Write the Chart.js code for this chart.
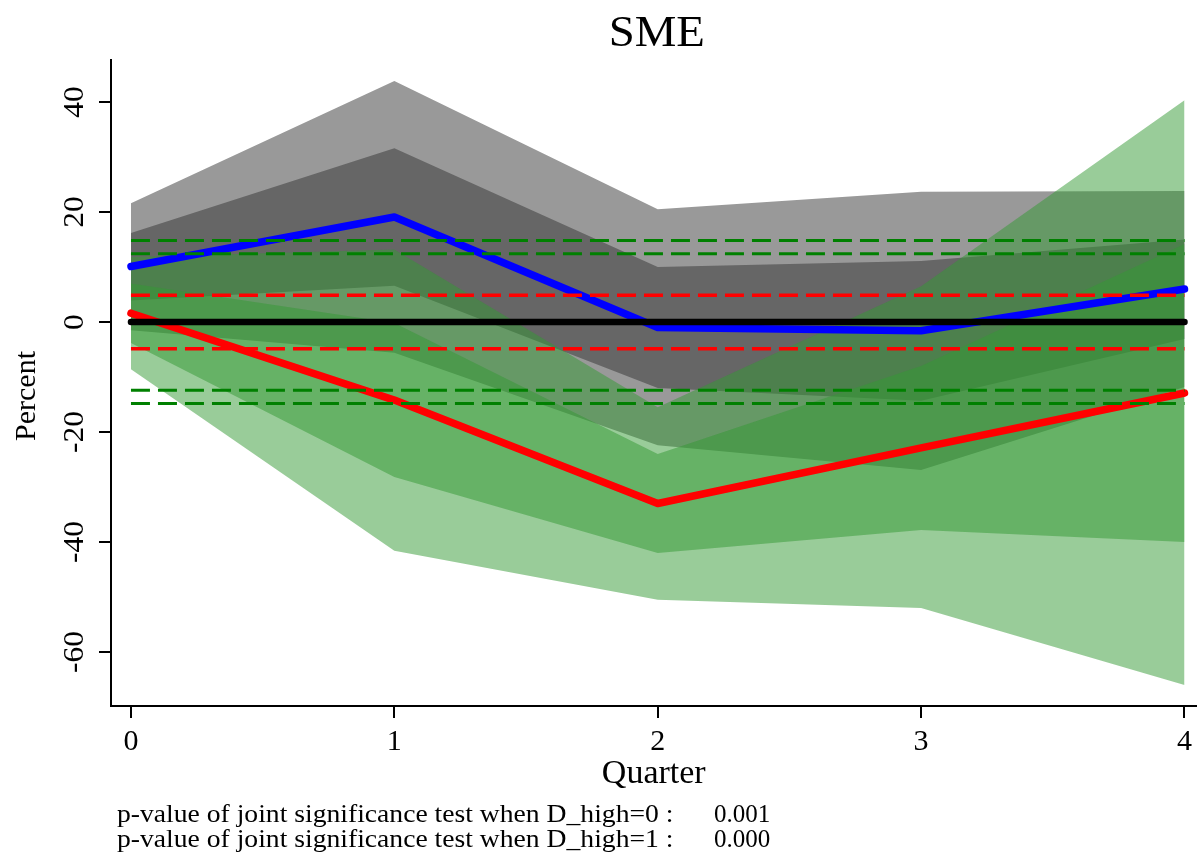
<!DOCTYPE html>
<html>
<head>
<meta charset="utf-8">
<script src="https://cdn.jsdelivr.net/npm/chart.js@4.4.1/dist/chart.umd.min.js"></script>
<style>
html,body{margin:0;padding:0;background:#ffffff;}
canvas{display:block;}
</style>
</head>
<body>
<canvas id="c" width="1198" height="857" style="width:1198px;height:857px"></canvas>
<script>
// ---- data ----
const quarters = [0, 1, 2, 3, 4];
const yTickValues = [-60, -40, -20, 0, 20, 40];

// D_high = 0 (blue) point estimate and bands
const blueEstimate   = [10.1, 19.1, -1.0, -1.6, 6.0];
const blueOuterUpper = [21.6, 43.8, 20.5, 23.7, 23.8];
const blueOuterLower = [-1.5, -5.6, -22.4, -26.9, -11.8];
const blueInnerUpper = [16.2, 31.6, 10.0, 11.1, 15.0];
const blueInnerLower = [3.9, 6.6, -12.0, -14.3, -3.1];

// D_high = 1 (red) point estimate and bands
const redEstimate   = [1.6, -14.2, -33.0, -22.9, -12.9];
const redOuterUpper = [11.8, 13.2, -15.5, 6.5, 40.3];
const redOuterLower = [-8.6, -41.6, -50.5, -52.0, -66.0];
const redInnerUpper = [7.0, -0.2, -24.0, -8.0, 14.2];
const redInnerLower = [-3.8, -28.2, -42.0, -37.8, -40.0];

// reference levels
const zeroLevel = 0;
const greenDashLevels = [14.8, 12.4, -12.4, -14.8];
const redDashLevels = [4.85, -4.85];

const titleText = 'SME';
const xTitle = 'Quarter';
const yTitle = 'Percent';
const footnoteLabels = ['p-value of joint significance test when D_high=0 :', 'p-value of joint significance test when D_high=1 :'];
const footnoteValues = ['0.001', '0.000'];

// ---- axis ranges ----
const xMin = -0.0758, xMax = 4.0455;
const yMin = -69.82, yMax = 47.64;

const FONT = 'Liberation Serif';
const GREEN_BAND = 'rgba(51,153,51,0.5)';

const pts = arr => quarters.map((q, i) => ({x: q, y: arr[i]}));
const hline = v => [{x: quarters[0], y: v}, {x: quarters[quarters.length - 1], y: v}];

function band(lower, upper, color, order) {
  return [
    {data: pts(lower), borderWidth: 0, pointRadius: 0, fill: false, order: order, borderColor: 'rgba(0,0,0,0)'},
    {data: pts(upper), borderWidth: 0, pointRadius: 0, fill: '-1', backgroundColor: color, order: order, borderColor: 'rgba(0,0,0,0)'}
  ];
}

const datasets = [];
datasets.push(...band(blueOuterLower, blueOuterUpper, '#999999', 20));
datasets.push(...band(blueInnerLower, blueInnerUpper, '#666666', 19));
datasets.push(...band(redOuterLower, redOuterUpper, GREEN_BAND, 18));
datasets.push(...band(redInnerLower, redInnerUpper, GREEN_BAND, 17));
datasets.push({data: pts(blueEstimate), borderColor: '#0000ff', borderWidth: 7.5, pointRadius: 0, fill: false, order: 6, borderCapStyle: 'round', borderJoinStyle: 'round'});
datasets.push({data: pts(redEstimate), borderColor: '#ff0000', borderWidth: 7.5, pointRadius: 0, fill: false, order: 5, borderCapStyle: 'round', borderJoinStyle: 'round'});
datasets.push({data: hline(zeroLevel), borderColor: '#000000', borderWidth: 6.5, pointRadius: 0, fill: false, order: 4, borderCapStyle: 'round'});
greenDashLevels.forEach(v => datasets.push({data: hline(v), borderColor: '#008000', borderWidth: 3, borderDash: [19, 8], pointRadius: 0, fill: false, order: 2}));
redDashLevels.forEach(v => datasets.push({data: hline(v), borderColor: '#ff0000', borderWidth: 3.5, borderDash: [19, 8], pointRadius: 0, fill: false, order: 2}));

const textPlugin = {
  id: 'customText',
  afterDraw(chart) {
    const ctx = chart.ctx;
    const ys = chart.scales.y;
    const area = chart.chartArea;
    ctx.save();
    ctx.fillStyle = '#000';
    // rotated y tick labels
    ctx.font = '30px "' + FONT + '"';
    ctx.textAlign = 'center';
    ctx.textBaseline = 'alphabetic';
    ys.ticks.forEach(t => {
      const py = ys.getPixelForValue(t.value);
      ctx.save();
      ctx.translate(83, py);
      ctx.rotate(-Math.PI / 2);
      ctx.scale(1.05, 1);
      ctx.fillText(String(t.value), 0, 0);
      ctx.restore();
    });
    // y axis title
    ctx.save();
    ctx.font = '30px "' + FONT + '"';
    ctx.translate(35, 396);
    ctx.rotate(-Math.PI / 2);
    ctx.fillText(yTitle, 0, 0);
    ctx.restore();
    // title
    ctx.save();
    ctx.font = '45px "' + FONT + '"';
    ctx.translate((area.left + area.right) / 2 + 3, 46);
    ctx.scale(1.04, 1);
    ctx.fillText(titleText, 0, 0);
    ctx.restore();
    // footnotes
    ctx.font = '25px "' + FONT + '"';
    ctx.textAlign = 'left';
    footnoteLabels.forEach((s, i) => {
      ctx.save();
      ctx.translate(117, 822 + 25 * i);
      ctx.scale(1.105, 1);
      ctx.fillText(s, 0, 0);
      ctx.restore();
      ctx.fillText(footnoteValues[i], 714, 822 + 25 * i);
    });
    ctx.restore();
  }
};

new Chart(document.getElementById('c'), {
  type: 'line',
  data: {datasets: datasets},
  plugins: [textPlugin],
  options: {
    responsive: false,
    devicePixelRatio: 1,
    animation: false,
    events: [],
    layout: {padding: {top: 60, left: 0, right: 0, bottom: 0}},
    elements: {line: {tension: 0}},
    plugins: {legend: {display: false}, title: {display: false}, tooltip: {enabled: false}},
    scales: {
      x: {
        type: 'linear', min: xMin, max: xMax,
        afterBuildTicks: s => { s.ticks = quarters.map(v => ({value: v})); },
        afterFit: s => { s.height = 151; },
        grid: {drawOnChartArea: false, drawTicks: true, tickLength: 12, color: '#000', lineWidth: 2},
        border: {display: true, color: '#000', width: 2},
        ticks: {color: '#000', font: {family: FONT, size: 30}, padding: 6, maxRotation: 0, autoSkip: false},
        title: {display: true, text: xTitle, color: '#000', font: {family: FONT, size: 34, lineHeight: 1.2}, padding: {top: 0, bottom: 63}}
      },
      y: {
        type: 'linear', min: yMin, max: yMax,
        afterBuildTicks: s => { s.ticks = yTickValues.map(v => ({value: v})); },
        afterFit: s => { s.width = 111; },
        grid: {drawOnChartArea: false, drawTicks: true, tickLength: 12, color: '#000', lineWidth: 2},
        border: {display: true, color: '#000', width: 2},
        ticks: {display: false},
        title: {display: false, text: yTitle}
      }
    }
  }
});
</script>
</body>
</html>
